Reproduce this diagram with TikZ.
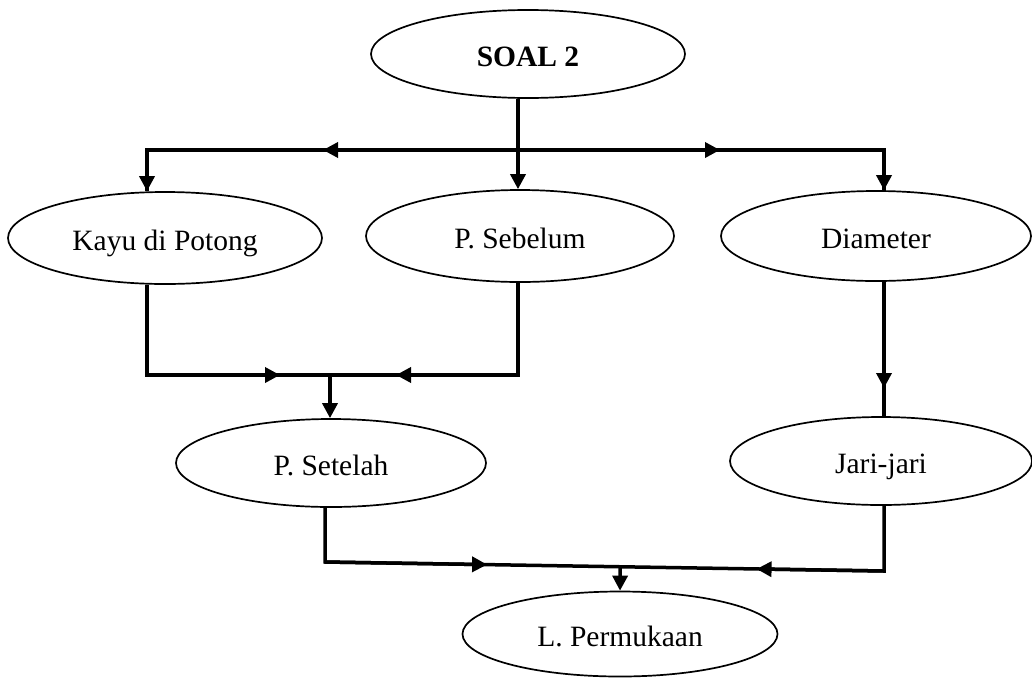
\documentclass[tikz,border=0pt]{standalone}
\usepackage{fontspec}
\setmainfont{Liberation Serif}
\usetikzlibrary{shapes.geometric,arrows.meta,calc}
\begin{document}
\begin{tikzpicture}[x=1pt,y=-1pt,
  box/.style={draw,ellipse,line width=1.7pt,inner sep=0pt,text height=25pt,text depth=1pt,font=\fontsize{29.5}{33}\selectfont},
  conn/.style={line width=3.5pt,line join=miter},
  tip/.style={-{Triangle[length=15pt,width=15pt]}}]
\useasboundingbox (0,0) rectangle (1032,683);
% nodes
\node[box,minimum width=314pt,minimum height=88pt] (soal) at (528,54) {\textbf{SOAL 2}};
\node[box,minimum width=314pt,minimum height=92pt] (kayu) at (165,238) {Kayu di Potong};
\node[box,minimum width=308pt,minimum height=92pt] (sebelum) at (520,236) {P. Sebelum};
\node[box,minimum width=310pt,minimum height=90pt] (diameter) at (876,236) {Diameter};
\node[box,minimum width=310pt,minimum height=88pt] (setelah) at (331,463) {P. Setelah};
\node[box,minimum width=302pt,minimum height=88pt] (jari) at (881,461) {Jari-jari};
\node[box,minimum width=315pt,minimum height=85pt] (permukaan) at (620,634) {L. Permukaan};
% coordinates
\coordinate (h1) at (147,150);
\coordinate (h2) at (884,150);
\coordinate (t) at (518,150);
\coordinate (m1) at (323,150);
\coordinate (m2) at (720,150);
\coordinate (j1) at (147,375);
\coordinate (j2) at (518,375);
\coordinate (j3) at (330,375);
\coordinate (n1) at (280,375);
\coordinate (n2) at (396,375);
\coordinate (d1) at (884,388);
\coordinate (k1) at (325,562);
\coordinate (k2) at (884,571);
% top distribution
\draw[conn] (h1 |- kayu.north) -- (h1) -- (h2) -- (h2 |- diameter.north);
\draw[conn,tip] (t |- soal.south) -- (t |- sebelum.north);
\draw[conn,tip] (h1) -- (h1 |- kayu.north);
\draw[conn,tip] (h2) -- (h2 |- diameter.north);
\draw[conn,tip] (t) -- (m1);
\draw[conn,tip] (t) -- (m2);
% join to P. Setelah
\draw[conn] (j1 |- kayu.south) -- (j1) -- (j2) -- (j2 |- sebelum.south);
\draw[conn,tip] (j1) -- (n1);
\draw[conn,tip] (j2) -- (n2);
\draw[conn,tip] (j3) -- (j3 |- setelah.north);
% diameter to jari-jari
\draw[conn] (d1 |- diameter.south) -- (d1 |- jari.north);
\draw[conn,tip] (d1 |- diameter.south) -- (d1);
% bottom join
\draw[conn] (k1 |- setelah.south) -- (k1) -- (k2) -- (k2 |- jari.south);
\draw[conn,tip] (k1) -- ($(k1)!0.29!(k2)$);
\draw[conn,tip] (k2) -- ($(k2)!0.228!(k1)$);
\draw[conn,tip] ($(k1)!0.528!(k2)$) -- (permukaan.north);
\end{tikzpicture}
\end{document}
